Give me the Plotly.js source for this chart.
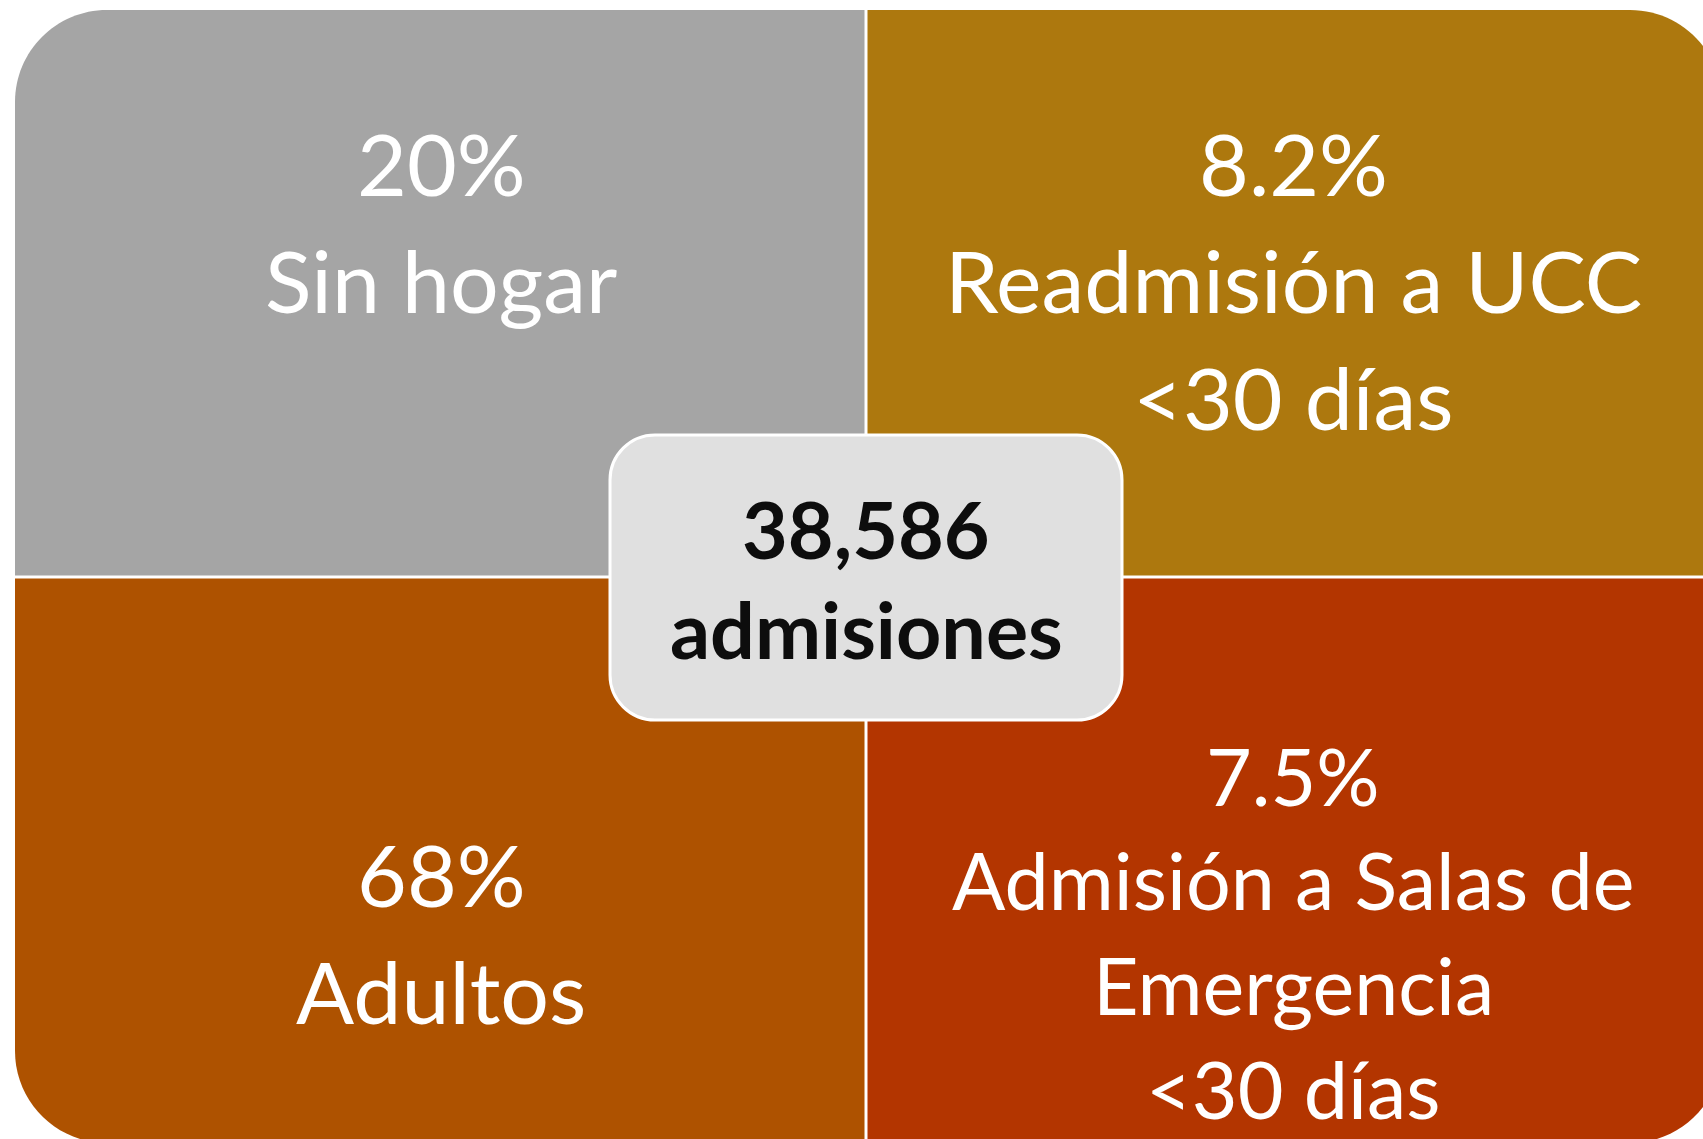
<!DOCTYPE html>
<html>
<head>
<meta charset="utf-8">
<script src="https://cdn.plot.ly/plotly-3.0.1.min.js"></script>
<style>
  html, body { margin: 0; padding: 0; background: #ffffff; }
  #chart { width: 1703px; height: 1139px; }
</style>
</head>
<body>
<div id="chart"></div>
<script>
// ---------------- DATA ----------------
const pctValues = [20, 8.2, 68, 7.5];
const categoryLines = [
  ['Sin hogar'],
  ['Readmisión a UCC', '<30 días'],
  ['Adultos'],
  ['Admisión a Salas de', 'Emergencia', '<30 días']
];
const quadrantColors = ['#a5a5a5', '#ad780e', '#ae5200', '#b33500'];
const totalAdmissions = 38586;
const totalLabel = 'admisiones';

// ---------------- LAYOUT HELPERS ----------------
const W = 1703, H = 1139;
const FONT = 'Lato, "Open Sans", sans-serif';

function esc(s) { return s.replace(/&/g, '&amp;').replace(/</g, '&lt;').replace(/>/g, '&gt;'); }

function roundedPath(x0, y0, x1, y1, r) {
  const k = 0.5523;
  const [tl, tr, br, bl] = r;
  return [
    'M', x0 + tl, y0,
    'L', x1 - tr, y0,
    'C', x1 - tr + k * tr, y0, x1, y0 + tr - k * tr, x1, y0 + tr,
    'L', x1, y1 - br,
    'C', x1, y1 - br + k * br, x1 - br + k * br, y1, x1 - br, y1,
    'L', x0 + bl, y1,
    'C', x0 + bl - k * bl, y1, x0, y1 - bl + k * bl, x0, y1 - bl,
    'L', x0, y0 + tl,
    'C', x0, y0 + tl - k * tl, x0 + tl - k * tl, y0, x0 + tl, y0,
    'Z'
  ].join(' ');
}

// outer frame geometry
const L = 15, T = 10, R = 1722, B = 1143, midX = 866, midY = 577, gap = 1.5, rad = 92;
const quadBoxes = [
  [L, T, midX - gap, midY - gap, [rad, 0, 0, 0]],
  [midX + gap, T, R, midY - gap, [0, rad, 0, 0]],
  [L, midY + gap, midX - gap, B, [0, 0, 0, rad]],
  [midX + gap, midY + gap, R, B, [0, 0, rad, 0]]
];
// text placement per quadrant: center x, first baseline, line spacing, font size
const textPlace = [
  { cx: 441, base: 196, step: 116.5, size: 86 },
  { cx: 1293, base: 196, step: 117, size: 86 },
  { cx: 441, base: 907, step: 117, size: 86 },
  { cx: 1293, base: 806, step: 104.5, size: 79 }
];

const shapes = [];
quadBoxes.forEach((q, i) => {
  shapes.push({
    type: 'path', xref: 'x', yref: 'y', layer: 'above',
    path: roundedPath(q[0], q[1], q[2], q[3], q[4]),
    fillcolor: quadrantColors[i], line: { width: 0 }
  });
});
// center box
shapes.push({
  type: 'path', xref: 'x', yref: 'y', layer: 'above',
  path: roundedPath(610, 435, 1122, 720, [45, 45, 45, 45]),
  fillcolor: '#e0e0e0', line: { color: '#ffffff', width: 3 }
});

const annotations = [];
function addLine(text, cx, baseline, size, color, bold) {
  annotations.push({
    xref: 'x', yref: 'y', x: cx, y: baseline - 0.387 * size,
    xanchor: 'center', yanchor: 'middle', showarrow: false,
    text: bold ? '<b>' + esc(text) + '</b>' : esc(text),
    font: { family: FONT, size: size, color: color },
    borderpad: 0
  });
}
pctValues.forEach((v, i) => {
  const p = textPlace[i];
  const lines = [v + '%'].concat(categoryLines[i]);
  lines.forEach((ln, j) => addLine(ln, p.cx, p.base + j * p.step, p.size, '#ffffff', false));
});
const totalLines = [totalAdmissions.toLocaleString('en-US'), totalLabel];
totalLines.forEach((ln, j) => addLine(ln, 866, 559 + j * 100, 79, '#0d0d0d', true));

const layout = {
  width: W, height: H,
  margin: { l: 0, r: 0, t: 0, b: 0, pad: 0 },
  paper_bgcolor: '#ffffff', plot_bgcolor: '#ffffff',
  xaxis: { range: [0, W], visible: false, fixedrange: true },
  yaxis: { range: [H, 0], visible: false, fixedrange: true },
  showlegend: false,
  shapes: shapes,
  annotations: annotations
};

Plotly.newPlot('chart', [{ x: [], y: [], type: 'scatter', mode: 'markers', hoverinfo: 'skip' }], layout,
  { displayModeBar: false, staticPlot: true });
</script>
</body>
</html>
